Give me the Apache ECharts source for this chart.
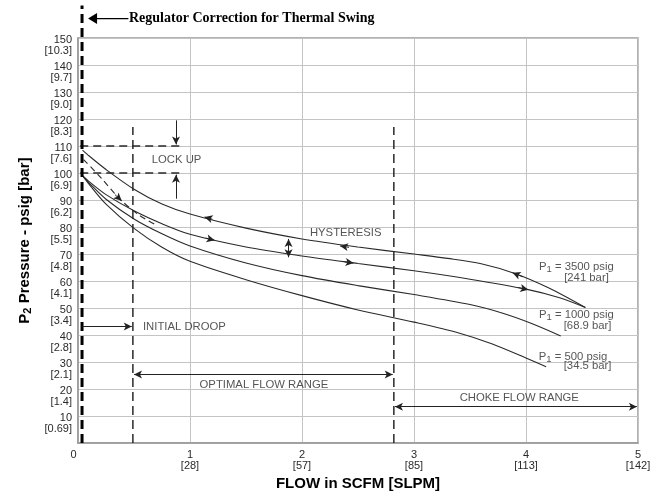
<!DOCTYPE html>
<html>
<head>
<meta charset="utf-8">
<script src="https://cdn.jsdelivr.net/npm/echarts/dist/echarts.min.js"></script>
</head>
<body style="margin:0;background:#fff;">
<div id="flowChart" style="width:660px;height:496px;"></div>
<script>
// axis ticks
var xSlpm = ['', '28', '57', '85', '113', '142'];
var yBar = {10:'0.69',20:'1.4',30:'2.1',40:'2.8',50:'3.4',60:'4.1',70:'4.8',80:'5.5',
            90:'6.2',100:'6.9',110:'7.6',120:'8.3',130:'9.0',140:'9.7',150:'10.3'};

// P2 vs flow curves
var p3500Down = [[0.04,108.5],[0.1,106.3],[0.25,101.3],[0.5,94],[0.75,88.5],[1.0,84.8],[1.5,79.6],[2.0,75.6],
                 [2.5,72.6],[3.0,70.0],[3.3,68.4],[3.6,66.4],[3.9,62.8],[4.2,57.5],[4.53,50.2]];
var p3500Up   = [[0.04,99],[0.1,96.8],[0.25,92],[0.5,86],[0.75,81.2],[1.0,77.3],[1.5,72.6],[2.0,69.3],
                 [2.5,66.5],[3.0,63.8],[3.5,60.7],[4.0,57.0],[4.3,53.8],[4.53,50.2]];
var p1000     = [[0.04,99],[0.1,96.3],[0.25,90.3],[0.5,83],[0.75,77.5],[1.0,73],[1.5,66.7],[2.0,62],
                 [2.5,58.3],[3.0,55],[3.5,51.3],[3.8,48],[4.05,44.3],[4.31,39.7]];
var p500      = [[0.04,99],[0.1,95.8],[0.25,88.5],[0.5,79.5],[0.75,72.5],[1.0,67.3],[1.5,60.5],[2.0,54.6],
                 [2.5,49.3],[3.0,44.8],[3.4,40.8],[3.7,36.7],[4.0,31.5],[4.18,28.3]];
var droopDash = [[0.05,105],[0.21,98],[0.38,90.1],[0.55,84.3],[0.71,80.5]];

// guide lines
var lockHigh = [[0.02,110],[0.92,110]];
var lockLow  = [[0.02,100],[0.92,100]];
var optLeft  = [[0.49,0],[0.49,117]];
var optRight = [[2.82,0],[2.82,117]];
var thermal  = [[0.036,0],[0.036,162]];
var titleArrow = [[0.45,157.2],[0.13,157.2]];

// arrows: [x1,y1,x2,y2,double]
var arrows = [
  [0.875,119.5,0.875,110.6,0],[0.875,90.5,0.875,99.4,0],
  [1.2,82.9,1.13,83.7,0],[2.42,72.5,2.34,73.0,0],[3.97,61.6,3.88,63.1,0],
  [1.14,75.9,1.22,75.1,0],[2.38,67.1,2.46,66.7,0],[3.93,57.6,4.02,56.8,0],
  [0.33,92,0.39,89.7,0],
  [1.88,68.8,1.88,75.6,1],
  [0.04,43.2,0.48,43.2,0],
  [0.5,25.4,2.81,25.4,1],
  [2.83,13.5,4.99,13.5,1]
];

// annotation texts
var notes = [
  [0.88,105,'LOCK UP'],
  [2.39,78,'HYSTERESIS'],
  [0.95,43.2,'INITIAL DROOP'],
  [1.66,21.6,'OPTIMAL FLOW RANGE'],
  [3.94,16.8,'CHOKE FLOW RANGE'],
  [4.45,65.4,'{n|P}{s|1}{n| = 3500 psig}'],[4.54,61.2,'[241 bar]'],
  [4.45,47.4,'{n|P}{s|1}{n| = 1000 psig}'],[4.55,43.5,'[68.9 bar]'],
  [4.42,32.1,'{n|P}{s|1}{n| = 500 psig}'],[4.55,28.5,'[34.5 bar]']
];

var ink = '#2a2a2a';
var font = 'Liberation Sans';

function curve(data, dashed) {
  return {
    type: 'line', data: data, smooth: 0.3, showSymbol: false,
    lineStyle: { color: ink, width: 1.1, type: dashed ? [6, 4] : 'solid' }
  };
}
function guide(data, width, dash, color) {
  return {
    type: 'line', data: data, showSymbol: false, clip: false,
    lineStyle: { color: color || ink, width: width, type: dash }
  };
}

var chart = echarts.init(document.getElementById('flowChart'));

chart.setOption({
  animation: false,
  title: {
    text: 'Regulator Correction for Thermal Swing', left: 129, top: 11, padding: 0,
    textStyle: { fontFamily: 'Liberation Serif', fontWeight: 'bold', fontSize: 14, color: '#000' }
  },
  grid: { left: 78, right: 22, top: 38, bottom: 50, show: true, borderColor: '#999', borderWidth: 1.5 },
  xAxis: {
    type: 'value', min: 0, max: 5, interval: 1,
    name: 'FLOW in SCFM [SLPM]', nameLocation: 'middle', nameGap: 30,
    nameTextStyle: { fontFamily: font, fontWeight: 'bold', fontSize: 15, color: '#000' },
    axisLine: { lineStyle: { color: '#999', width: 1.5 } },
    axisTick: { show: false },
    splitLine: { lineStyle: { color: '#c4c4c4' } },
    axisLabel: {
      fontFamily: font, fontSize: 11, color: ink, lineHeight: 11, margin: 6,
      formatter: function (v) { return v === 0 ? '{z|0}' : v + '\n[' + xSlpm[v] + ']'; },
      rich: { z: { fontFamily: font, fontSize: 11, color: ink, padding: [0, 9, 0, 0] } }
    }
  },
  yAxis: {
    type: 'value', min: 0, max: 150, interval: 10,
    name: '{b|P}{s|2}{b| Pressure - psig [bar]}', nameLocation: 'middle', nameGap: 44, nameRotate: 90,
    nameTextStyle: {
      rich: {
        b: { fontFamily: font, fontWeight: 'bold', fontSize: 15, color: '#000' },
        s: { fontFamily: font, fontWeight: 'bold', fontSize: 11, color: '#000', padding: [7, 0, 0, 0] }
      }
    },
    axisLine: { show: true, lineStyle: { color: '#999', width: 1.5 } },
    axisTick: { show: false },
    splitLine: { lineStyle: { color: '#c4c4c4' } },
    axisLabel: {
      margin: 6, interval: 0, verticalAlign: 'top', align: 'right',
      showMaxLabel: true, showMinLabel: true,
      formatter: function (v) { return v === 0 ? '' : '{a|' + v + '}\n{b|[' + yBar[v] + ']}'; },
      rich: {
        a: { fontFamily: font, fontSize: 11, color: ink, lineHeight: 3.6, align: 'right' },
        b: { fontFamily: font, fontSize: 11, color: ink, lineHeight: 19, align: 'right' }
      }
    }
  },
  series: [
    curve(p3500Down), curve(p3500Up), curve(p1000), curve(p500), curve(droopDash, true),
    guide(lockHigh, 1.5, [8, 5]), guide(lockLow, 1.5, [8, 5]),
    guide(optLeft, 1.5, [9, 5]), guide(optRight, 1.5, [9, 5]),
    guide(thermal, 3, [9, 5], '#000'),
    {
      type: 'line', clip: false, showSymbol: true,
      data: [
        { value: titleArrow[0], symbol: 'none' },
        { value: titleArrow[1], symbol: 'triangle', symbolRotate: 90, symbolSize: [11, 9] }
      ],
      lineStyle: { color: '#000', width: 1.2 }, itemStyle: { color: '#000' }
    },
    {
      type: 'line', data: [],
      markLine: {
        silent: true, symbol: ['none', 'arrow'], symbolSize: [6, 8],
        lineStyle: { color: '#222', width: 1, type: 'solid' },
        label: { show: false },
        data: arrows.map(function (a) {
          return [
            { coord: [a[0], a[1]], symbol: a[4] ? 'arrow' : 'none' },
            { coord: [a[2], a[3]], symbol: 'arrow' }
          ];
        })
      }
    },
    {
      type: 'scatter', symbolSize: 1, itemStyle: { color: 'rgba(0,0,0,0)' },
      data: notes,
      label: {
        show: true, position: 'inside', fontFamily: font, fontSize: 11.3, color: ink,
        textBorderWidth: 0,
        formatter: function (p) { return p.data[2]; },
        rich: {
          n: { fontFamily: font, fontSize: 11.3, color: ink, textBorderWidth: 0 },
          s: { fontFamily: font, fontSize: 9.5, color: ink, textBorderWidth: 0, padding: [5, 0, 0, 0] }
        }
      }
    }
  ]
});
</script>
</body>
</html>
